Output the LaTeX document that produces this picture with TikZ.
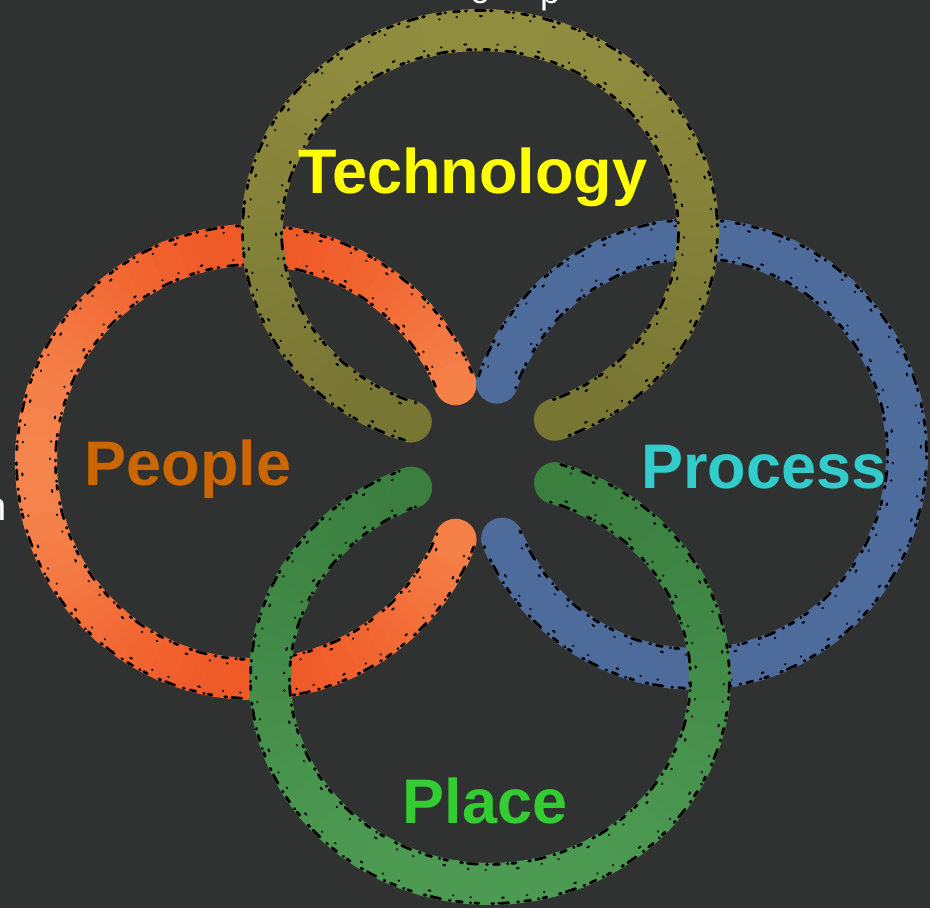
\documentclass[tikz,border=0pt]{standalone}
\usepackage{fontspec}
\setmainfont{Liberation Sans}

\definecolor{bg}{HTML}{303131}
\definecolor{orLight}{HTML}{F6854D}
\definecolor{orDeep}{HTML}{EE5220}
\definecolor{oliveLight}{HTML}{918D3F}
\definecolor{oliveDark}{HTML}{777533}
\definecolor{slate}{HTML}{4E6C9B}
\definecolor{grDark}{HTML}{3A7E3F}
\definecolor{grLight}{HTML}{4D9B53}
\definecolor{techYellow}{HTML}{FFFF00}
\definecolor{peopleOrange}{HTML}{CC6600}
\definecolor{processCyan}{HTML}{33CCCC}
\definecolor{placeGreen}{HTML}{33CC33}

\tikzset{
  band/.style={line width=42pt, line cap=butt, line join=round},
  grit/.style={line width=2.8pt, black, line cap=round,
    dash pattern=on 6pt off 6pt on 1pt off 9pt on 10pt off 5pt on 2pt off 13pt on 4pt off 4pt on 0.5pt off 8pt},
  speck/.style={line width=2pt, black, line cap=round,
    dash pattern=on 0.5pt off 23pt on 2pt off 31pt on 0.5pt off 17pt},
  ringlabel/.style={font=\fontsize{63}{70}\selectfont\bfseries, inner sep=0pt, anchor=base},
  edgetext/.style={text=white, inner sep=0pt, anchor=base west},
}

% Elliptical band: #1 cx, #2 cy, #3 x radius, #4 y radius, #5 start, #6 end,
% #7/#8 colours mixed by weight #9 (percent of #7, may use \rbt = angle)
\newcommand\ringband[9]{%
  \pgfmathsetmacro\rbstep{((#6)-(#5))/90}%
  \foreach \k in {0,...,89}{%
    \pgfmathsetmacro\rba{(#5)+\k*\rbstep}%
    \pgfmathsetmacro\rbb{min(\rba+1.3*\rbstep,#6)}%
    \pgfmathsetmacro\rbt{\rba+0.5*\rbstep}%
    \pgfmathtruncatemacro\rbw{#9}%
    \draw[band, draw=#7!\rbw!#8] plot[domain=\rba:\rbb, samples=4]
      ({#1+#3*cos(\x)},{#2+#4*sin(\x)});%
  }%
  \pgfmathsetmacro\rbt{#5}\pgfmathtruncatemacro\rbw{#9}%
  \fill[#7!\rbw!#8] ({#1+#3*cos(#5)},{#2+#4*sin(#5)}) circle[radius=21pt];%
  \pgfmathsetmacro\rbt{#6}\pgfmathtruncatemacro\rbw{#9}%
  \fill[#7!\rbw!#8] ({#1+#3*cos(#6)},{#2+#4*sin(#6)}) circle[radius=21pt];%
}

% Chalky dark specks along both edges of a band
\newcommand\ringgrit[6]{%
  \draw[grit] plot[domain=#5:#6, samples=160]
    ({#1+(#3+19.5)*cos(\x)},{#2+(#4+19.5)*sin(\x)});%
  \draw[grit, dash phase=11pt] plot[domain=#5:#6, samples=160]
    ({#1+(#3-19.5)*cos(\x)},{#2+(#4-19.5)*sin(\x)});%
  \draw[speck] plot[domain=#5+3:#6-3, samples=160]
    ({#1+(#3+14)*cos(\x)},{#2+(#4+14)*sin(\x)});%
  \draw[speck, dash phase=19pt] plot[domain=#5+3:#6-3, samples=160]
    ({#1+(#3-14)*cos(\x)},{#2+(#4-14)*sin(\x)});%
}

\begin{document}
\begin{tikzpicture}[x=1pt, y=-1pt]
  \useasboundingbox (0,0) rectangle (930,908);
  \clip (0,0) rectangle (930,908);
  \fill[bg] (0,0) rectangle (930,908);

  % People ring (left)
  \ringband{253}{462}{217}{217}{21}{339}{orLight}{orDeep}{100-85*sin(\rbt)*sin(\rbt)}
  \ringgrit{253}{462}{217}{217}{21}{339}
  % Process ring (right)
  \ringband{696}{454}{211}{215}{199.4}{516.8}{slate}{slate}{100}
  \ringgrit{696}{454}{211}{215}{199.4}{516.8}
  % Technology ring (top)
  \ringband{480}{231}{218}{201}{108.5}{429.9}{oliveLight}{oliveDark}{50-50*sin(\rbt)}
  \ringgrit{480}{231}{218}{201}{108.5}{429.9}
  % Place ring (bottom)
  \ringband{490}{679}{220}{205}{-72.8}{249}{grDark}{grLight}{50-50*sin(\rbt)}
  \ringgrit{490}{679}{220}{205}{-72.8}{249}

  % Labels
  \node[ringlabel, text=techYellow]   (tech)    at (473,193) {Technology};
  \node[ringlabel, text=peopleOrange] (people)  at (188,485) {People};
  \node[ringlabel, text=processCyan]  (process) at (764,488) {Process};
  \node[ringlabel, text=placeGreen]   (place)   at (485,823) {Place};

  % Caption text running past the edges
  \node[edgetext, font=\fontsize{36}{40}\selectfont] (capo) at (470,3) {o};
  \node[edgetext, font=\fontsize{36}{40}\selectfont] (capp) at (540,3) {p};
  \node[edgetext, font=\fontsize{40}{44}\selectfont] (capn) at (-16,520) {n};
\end{tikzpicture}
\end{document}
